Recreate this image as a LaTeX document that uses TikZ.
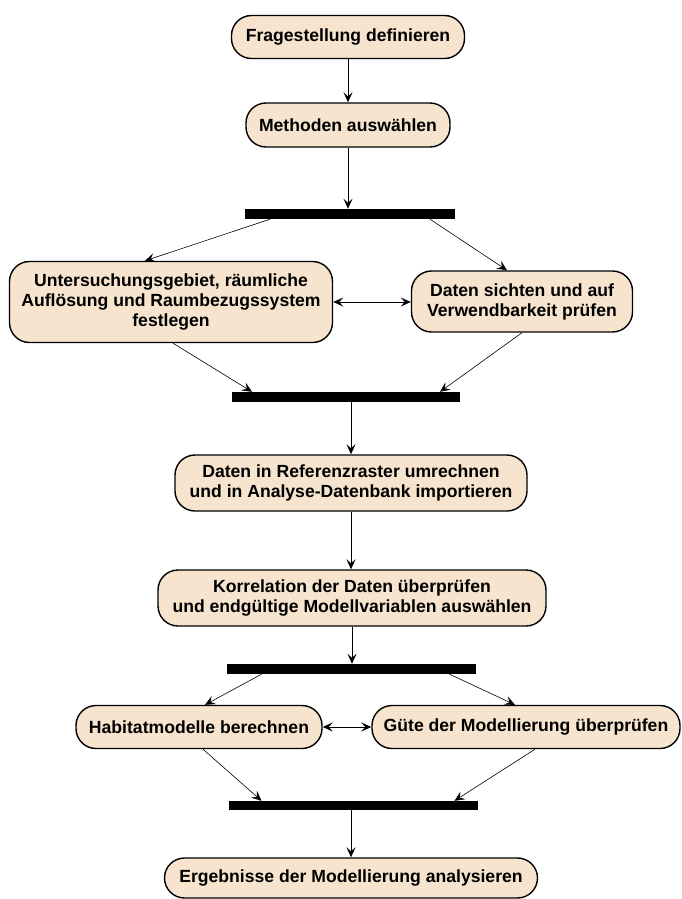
\documentclass[tikz,border=0pt]{standalone}
\usepackage{fontspec}
\setmainfont{Liberation Sans}
\usetikzlibrary{arrows.meta}

\begin{document}
\begin{tikzpicture}[x=1pt, y=-1pt,
    step box/.style={draw=black, line width=1.4pt, fill=mybeige,
        rounded corners=20pt, inner sep=2pt, align=center,
        font=\fontsize{17.6}{20}\selectfont\bfseries},
    sync bar/.style={fill=black, inner sep=0pt, minimum height=10pt},
    flow/.style={-{Stealth[length=10pt,width=9pt,inset=4pt]}, line width=1pt},
    fork/.style={-{Stealth[length=10pt,width=9pt,inset=4pt]}, line width=0.6pt},
    both/.style={{Stealth[length=10pt,width=9pt,inset=4pt]}-{Stealth[length=10pt,width=9pt,inset=4pt]}, line width=1pt}]
    \definecolor{mybeige}{RGB}{246,228,206}

    \useasboundingbox (0,0) rectangle (681,899);

    % actions
    \node[step box, minimum width=233, minimum height=43] (fragen) at (348,37) {Fragestellung definieren};
    \node[step box, minimum width=204, minimum height=44] (methoden) at (348,125) {Methoden ausw\"ahlen};
    \node[sync bar, minimum width=210] (sync1) at (350,214) {};
    \node[step box, minimum width=323, minimum height=81] (gebiet) at (171,302)
        {Untersuchungsgebiet, r\"aumliche\\Aufl\"osung und Raumbezugssystem\\festlegen};
    \node[step box, minimum width=221, minimum height=61] (daten) at (522,301.5)
        {Daten sichten und auf\\Verwendbarkeit pr\"ufen};
    \node[sync bar, minimum width=228] (sync2) at (346,397) {};
    \node[step box, minimum width=352, minimum height=56] (raster) at (351,483)
        {Daten in Referenzraster umrechnen\\und in Analyse-Datenbank importieren};
    \node[step box, minimum width=388, minimum height=56] (korrelation) at (352,598)
        {Korrelation der Daten \"uberpr\"ufen\\und endg\"ultige Modellvariablen ausw\"ahlen};
    \node[sync bar, minimum width=249] (sync3) at (351.5,669) {};
    \node[step box, minimum width=246, minimum height=43] (habitat) at (199,727) {Habitatmodelle berechnen};
    \node[step box, minimum width=308, minimum height=43] (guete) at (526,727) {G\"ute der Modellierung \"uberpr\"ufen};
    \node[sync bar, minimum width=249, minimum height=9] (sync4) at (353.5,805.5) {};
    \node[step box, minimum width=373, minimum height=40] (ergebnis) at (351,878)
        {Ergebnisse der Modellierung analysieren};

    % transitions
    \draw[flow] (fragen) -- (methoden);
    \draw[flow] (methoden) -- (methoden.south |- sync1.north);
    \draw[fork] ([xshift=-80]sync1.south) -- ([xshift=-26]gebiet.north);
    \draw[fork] ([xshift=80]sync1.south) -- ([xshift=-15]daten.north);
    \draw[both] (gebiet.east) -- (gebiet.east -| daten.west);
    \draw[fork] ([xshift=2]gebiet.south) -- ([xshift=-94]sync2.north);
    \draw[fork] (daten.south) -- ([xshift=94]sync2.north);
    \draw[flow] (raster.north |- sync2.south) -- (raster.north);
    \draw[flow] (raster.south) -- (raster.south |- korrelation.north);
    \draw[flow] (korrelation.south) -- (korrelation.south |- sync3.north);
    \draw[fork] ([xshift=-90]sync3.south) -- ([xshift=6]habitat.north);
    \draw[fork] ([xshift=98]sync3.south) -- ([xshift=-11]guete.north);
    \draw[both] (habitat.east) -- (guete.west);
    \draw[fork] ([xshift=4]habitat.south) -- ([xshift=-92]sync4.north);
    \draw[fork] ([xshift=9]guete.south) -- ([xshift=101]sync4.north);
    \draw[flow] (ergebnis.north |- sync4.south) -- (ergebnis.north);
\end{tikzpicture}
\end{document}
